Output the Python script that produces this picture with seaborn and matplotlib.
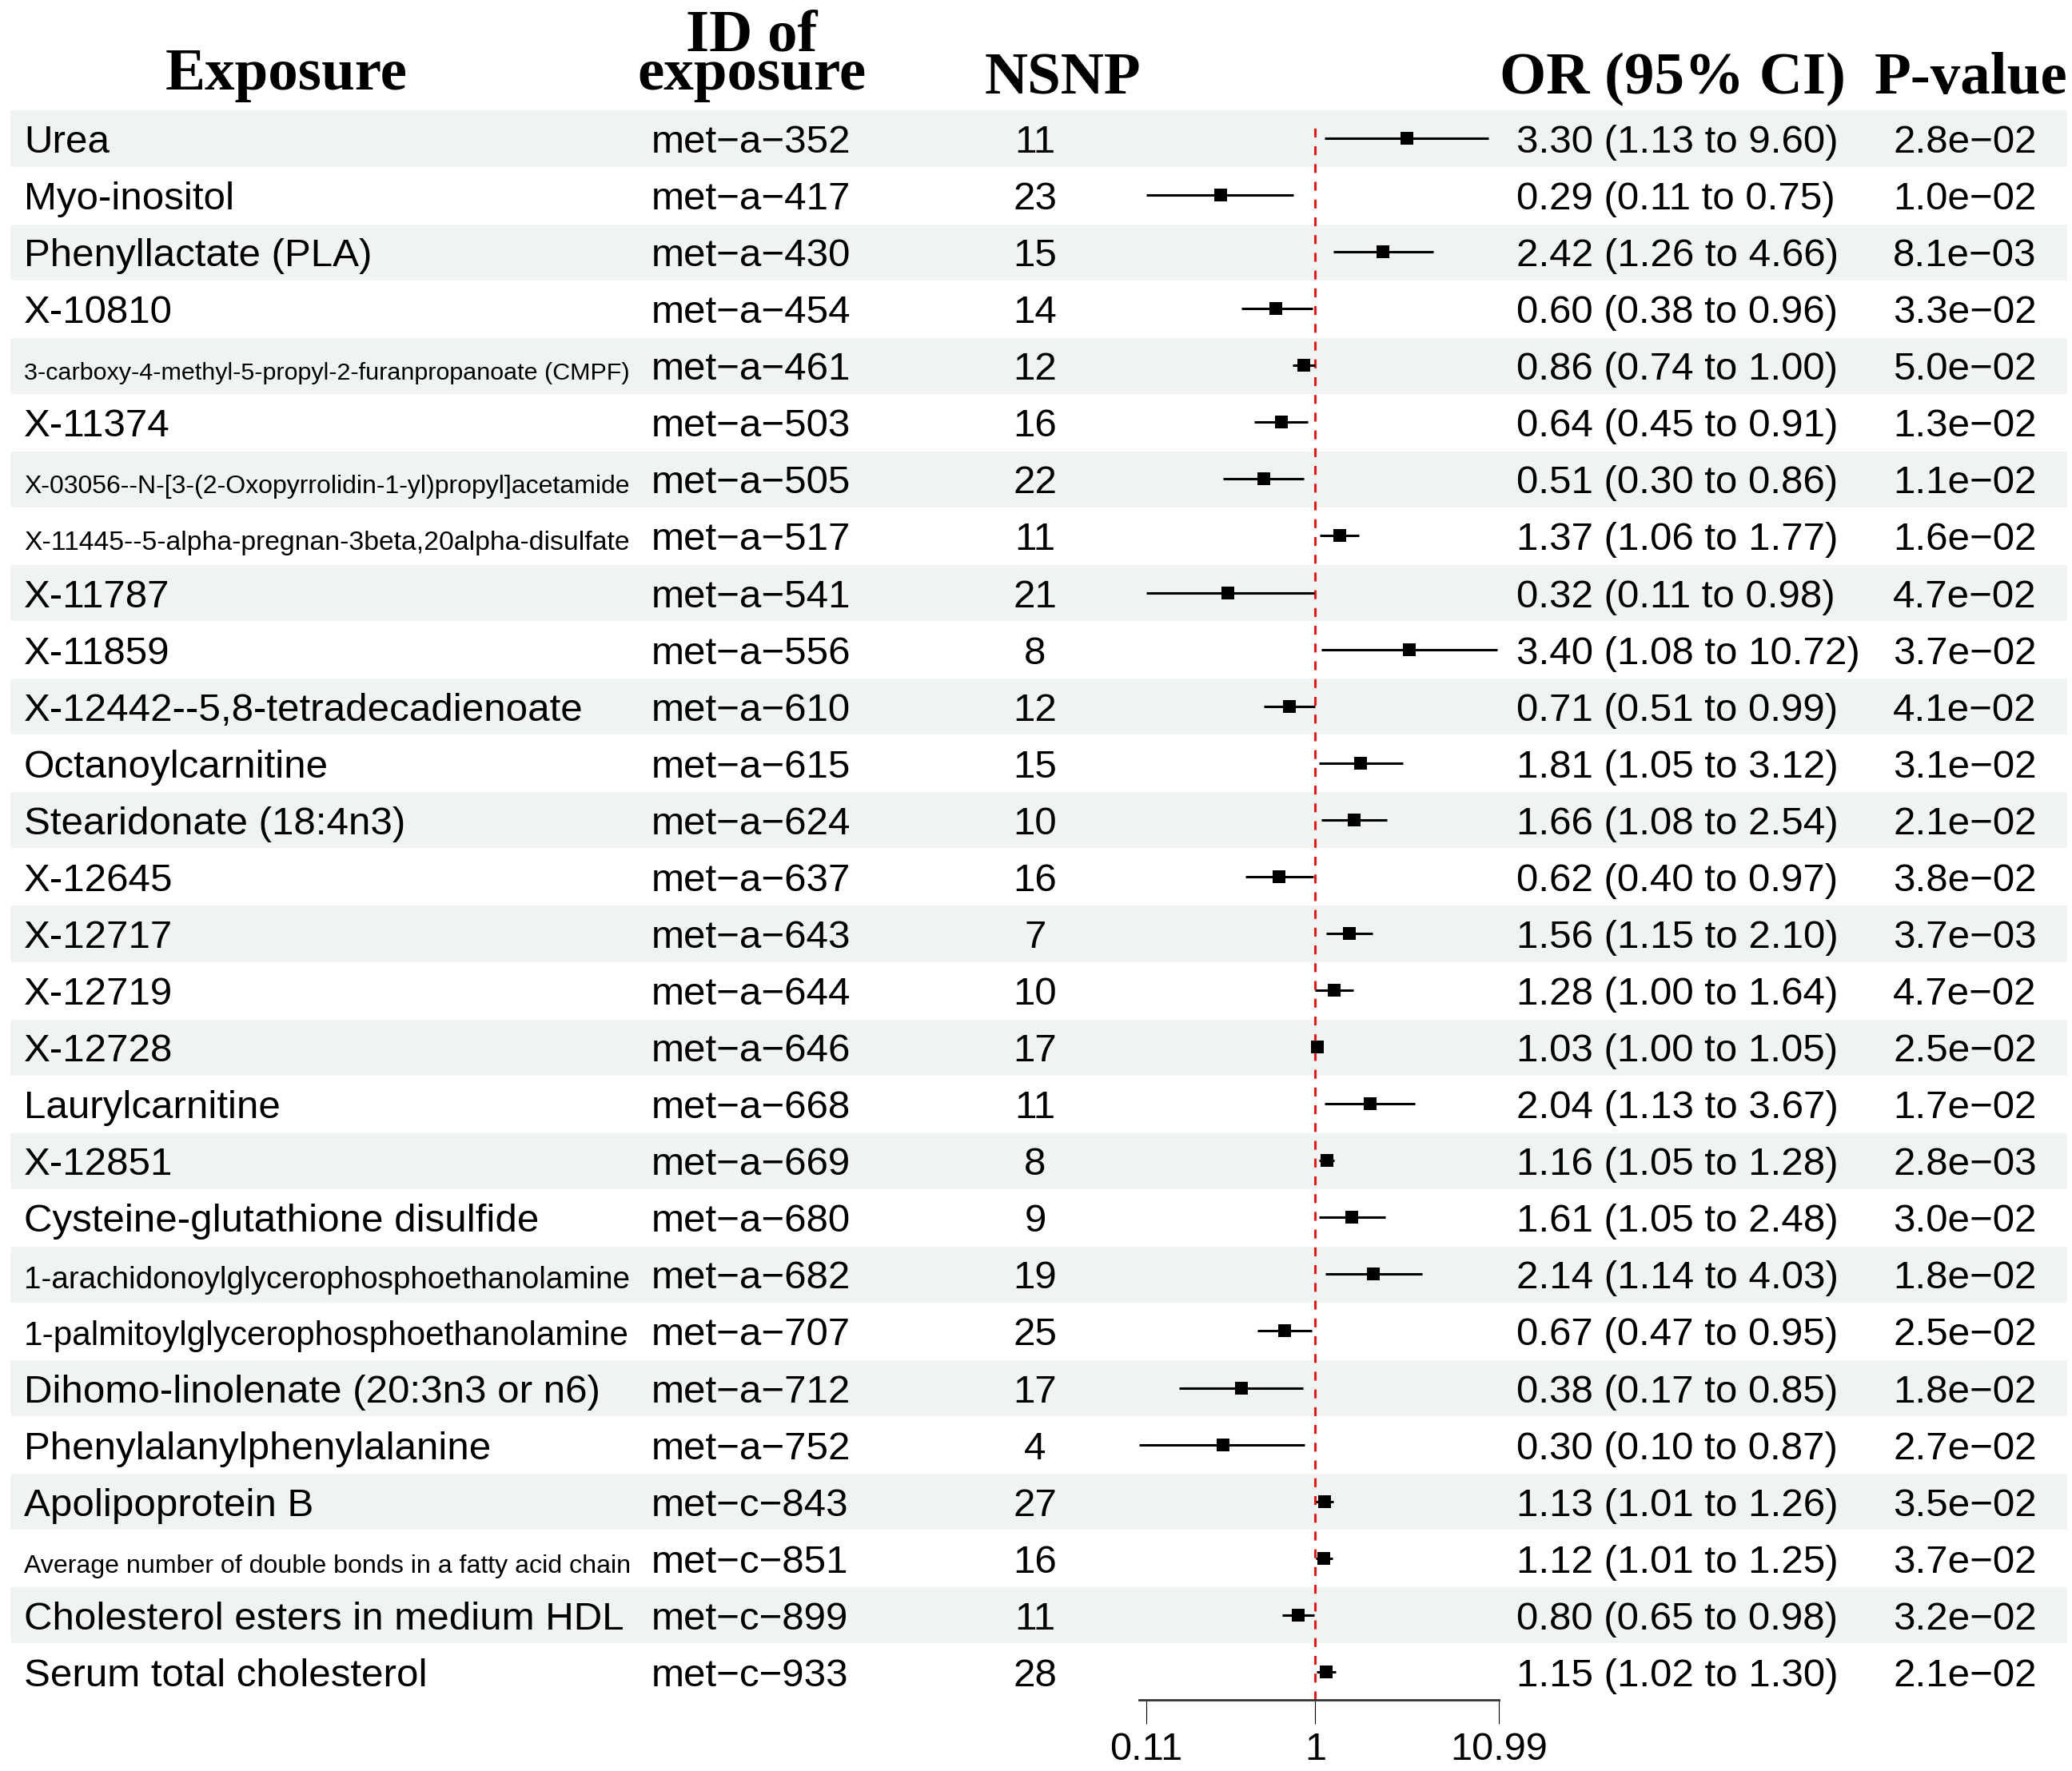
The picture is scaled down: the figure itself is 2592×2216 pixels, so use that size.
import numpy as np
import pandas as pd
import matplotlib
matplotlib.use("Agg")
import matplotlib.pyplot as plt
import seaborn as sns
from matplotlib import font_manager
from matplotlib.ticker import NullLocator


# ---- data ----
exposures = [
    "Urea",
    "Myo-inositol",
    "Phenyllactate (PLA)",
    "X-10810",
    "3-carboxy-4-methyl-5-propyl-2-furanpropanoate (CMPF)",
    "X-11374",
    "X-03056--N-[3-(2-Oxopyrrolidin-1-yl)propyl]acetamide",
    "X-11445--5-alpha-pregnan-3beta,20alpha-disulfate",
    "X-11787",
    "X-11859",
    "X-12442--5,8-tetradecadienoate",
    "Octanoylcarnitine",
    "Stearidonate (18:4n3)",
    "X-12645",
    "X-12717",
    "X-12719",
    "X-12728",
    "Laurylcarnitine",
    "X-12851",
    "Cysteine-glutathione disulfide",
    "1-arachidonoylglycerophosphoethanolamine",
    "1-palmitoylglycerophosphoethanolamine",
    "Dihomo-linolenate (20:3n3 or n6)",
    "Phenylalanylphenylalanine",
    "Apolipoprotein B",
    "Average number of double bonds in a fatty acid chain",
    "Cholesterol esters in medium HDL",
    "Serum total cholesterol",
]

exposure_ids = [
    "met-a-352", "met-a-417", "met-a-430", "met-a-454", "met-a-461",
    "met-a-503", "met-a-505", "met-a-517", "met-a-541", "met-a-556",
    "met-a-610", "met-a-615", "met-a-624", "met-a-637", "met-a-643",
    "met-a-644", "met-a-646", "met-a-668", "met-a-669", "met-a-680",
    "met-a-682", "met-a-707", "met-a-712", "met-a-752", "met-c-843",
    "met-c-851", "met-c-899", "met-c-933",
]

nsnp = [11, 23, 15, 14, 12, 16, 22, 11, 21, 8, 12, 15, 10, 16, 7,
        10, 17, 11, 8, 9, 19, 25, 17, 4, 27, 16, 11, 28]

or_est = [3.30, 0.29, 2.42, 0.60, 0.86, 0.64, 0.51, 1.37, 0.32, 3.40,
          0.71, 1.81, 1.66, 0.62, 1.56, 1.28, 1.03, 2.04, 1.16, 1.61,
          2.14, 0.67, 0.38, 0.30, 1.13, 1.12, 0.80, 1.15]
or_low = [1.13, 0.11, 1.26, 0.38, 0.74, 0.45, 0.30, 1.06, 0.11, 1.08,
          0.51, 1.05, 1.08, 0.40, 1.15, 1.00, 1.00, 1.13, 1.05, 1.05,
          1.14, 0.47, 0.17, 0.10, 1.01, 1.01, 0.65, 1.02]
or_high = [9.60, 0.75, 4.66, 0.96, 1.00, 0.91, 0.86, 1.77, 0.98, 10.72,
           0.99, 3.12, 2.54, 0.97, 2.10, 1.64, 1.05, 3.67, 1.28, 2.48,
           4.03, 0.95, 0.85, 0.87, 1.26, 1.25, 0.98, 1.30]

p_values = [2.8e-02, 1.0e-02, 8.1e-03, 3.3e-02, 5.0e-02, 1.3e-02, 1.1e-02,
            1.6e-02, 4.7e-02, 3.7e-02, 4.1e-02, 3.1e-02, 2.1e-02, 3.8e-02,
            3.7e-03, 4.7e-02, 2.5e-02, 1.7e-02, 2.8e-03, 3.0e-02, 1.8e-02,
            2.5e-02, 1.8e-02, 2.7e-02, 3.5e-02, 3.7e-02, 3.2e-02, 2.1e-02]

headers = ["Exposure", "ID of\nexposure", "NSNP", "OR (95% CI)", "P-value"]
xticks = [0.11, 1, 10.99]
xtick_labels = ["0.11", "1", "10.99"]
x_range = (0.1, 10.99)


# ---- layout (pixels) ----
W, H, DPI = 2592, 2216, 100
ROW0 = 173.0          # centre of first row
ROW_H = 71.07         # row pitch
BAND = "#eff3f2"

sns.set_theme(style="white")
plt.rcParams["font.family"] = ["Liberation Sans", "DejaVu Sans"]
plt.rcParams["axes.unicode_minus"] = True

MINUS = "\u2212"
df = pd.DataFrame({
    "exposure": exposures,
    "id": exposure_ids,
    "nsnp": nsnp,
    "or": or_est,
    "low": or_low,
    "high": or_high,
    "p": p_values,
})
df["row"] = np.arange(len(df))
df["ci_text"] = [f"{o:.2f} ({l:.2f} to {h:.2f})" for o, l, h in zip(df["or"], df["low"], df["high"])]
df["p_text"] = [f"{p:.1e}".replace("-", MINUS) for p in df["p"]]
df["id_text"] = [s.replace("-", MINUS) for s in df["id"]]

fig = plt.figure(figsize=(W / DPI, H / DPI), dpi=DPI)
fig.patch.set_facecolor("white")

# table canvas in pixel units
ax_t = fig.add_axes([0, 0, 1, 1])
ax_t.set_xlim(0, W)
ax_t.set_ylim(H, 0)
ax_t.axis("off")

row_y = ROW0 + df["row"] * ROW_H
shaded = df["row"] % 2 == 0
ax_t.barh(row_y[shaded], width=2574, left=12, height=ROW_H, color=BAND, zorder=0)

body = dict(fontsize=35.5, color="black", va="baseline", family=["Liberation Sans", "DejaVu Sans"])
head = dict(fontsize=54, color="black", va="baseline", fontweight="bold",
            family=["Liberation Serif", "DejaVu Serif"])

installed = {f.name for f in font_manager.fontManager.ttflist}
narrow = "Liberation Sans Narrow" if "Liberation Sans Narrow" in installed else None

renderer = fig.canvas.get_renderer()
MAX_W = 775
FIT_W = 758

for i, r in df.iterrows():
    yb = row_y[i] + 18
    t = ax_t.text(30, yb, r["exposure"], ha="left", **body)
    w = t.get_window_extent(renderer).width
    if w > MAX_W:
        if narrow:
            t.set_family([narrow, "Liberation Sans"])
            w = t.get_window_extent(renderer).width
        if w > MAX_W:
            t.set_fontsize(t.get_fontsize() * FIT_W / w)
    ax_t.text(815, yb, r["id_text"], ha="left", **body)
    ax_t.text(1295, yb, str(r["nsnp"]), ha="center", **body)
    ax_t.text(1897, yb, r["ci_text"], ha="left", **body)
    ax_t.text(2458, yb, r["p_text"], ha="center", **body)

# header
ax_t.text(358, 112, headers[0], ha="center", **head)
ax_t.text(940, 112, headers[1], ha="center", multialignment="center",
          linespacing=0.62, **head)
ax_t.text(1329, 117, headers[2], ha="center", **head)
ax_t.text(2092, 117, headers[3], ha="center", **head)
ax_t.text(2466, 117, headers[4], ha="center", **head)

# forest panel, log scale
fx0, fx1 = 1424.6, 1875.4
fy_top = ROW0 - 0.5 * ROW_H
fy_bot = ROW0 + (len(df) - 0.5) * ROW_H
ax_f = fig.add_axes([fx0 / W, 1 - fy_bot / H, (fx1 - fx0) / W, (fy_bot - fy_top) / H])
ax_f.patch.set_alpha(0)
ax_f.set_xscale("log")

ax_f.axvline(1, ymax=0.99, color="#ff0000", lw=2, ls=(0, (4, 4)), zorder=1)
ax_f.hlines(df["row"], df["low"], df["high"], color="black", lw=2.2, zorder=2)
sns.scatterplot(data=df, x="or", y="row", marker="s", s=117, color="black",
                edgecolor="black", linewidth=0, legend=False, ax=ax_f, zorder=3)

ax_f.set_xlim(*x_range)
ax_f.set_ylim(len(df) - 0.5, -0.5)
ax_f.set_xlabel("")
ax_f.set_ylabel("")
ax_f.set_yticks([])
ax_f.set_xticks(xticks)
ax_f.set_xticklabels(xtick_labels)
ax_f.xaxis.set_minor_locator(NullLocator())
ax_f.tick_params(axis="x", which="major", bottom=True, direction="out", length=21.6,
                 width=0.8, color="black", pad=7, labelsize=35, labelcolor="black")
for side in ["top", "left", "right"]:
    ax_f.spines[side].set_visible(False)
ax_f.spines["bottom"].set_linewidth(2)
ax_f.spines["bottom"].set_color("#333333")
ax_f.grid(False)

fig.savefig("out.png", dpi=DPI, facecolor="white")
